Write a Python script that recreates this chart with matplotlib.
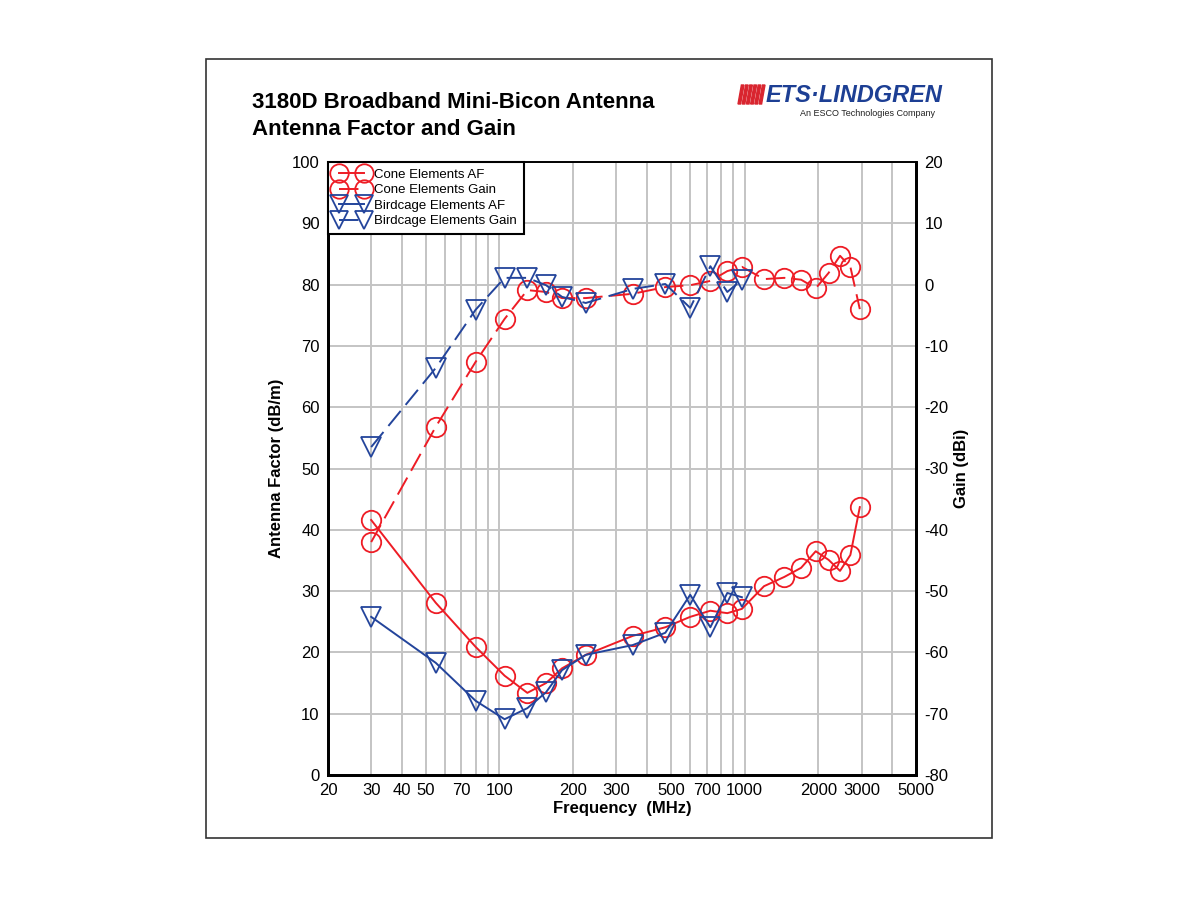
import matplotlib
matplotlib.use("Agg")
import matplotlib.pyplot as plt
from matplotlib.patches import Rectangle, Polygon

plt.rcParams["font.family"] = ["Liberation Sans", "DejaVu Sans"]
plt.rcParams["axes.unicode_minus"] = False

# frequencies (MHz)
freq_bird = [30, 55, 80, 105, 130, 155, 180, 225, 350, 475, 600, 725, 850, 975]
freq_cone = [30, 55, 80, 105, 130, 155, 180, 225, 350, 475, 600, 725, 850, 975,
             1200, 1450, 1700, 1950, 2200, 2450, 2700, 2950]

# antenna factor (dB/m)
cone_af = [41.6, 28.1, 20.9, 16.2, 13.4, 15.0, 17.4, 19.6, 22.7, 24.1, 25.8, 26.8, 26.4, 27.1,
           30.8, 32.3, 33.8, 36.5, 35.1, 33.3, 35.9, 43.7]
bird_af = [25.8, 18.3, 12.1, 9.1, 10.9, 13.5, 17.1, 19.6, 21.2, 23.2, 29.4, 24.1, 29.7, 29.0]

# gain (dBi)
cone_gain = [-42.0, -23.2, -12.6, -5.6, -0.9, -1.2, -2.2, -2.2, -1.5, -0.4, -0.1, 0.6, 2.2, 2.9,
             0.9, 1.1, 0.8, -0.6, 1.9, 4.7, 2.9, -4.0]
bird_gain = [-26.5, -13.6, -4.1, 1.1, 1.1, -0.1, -2.0, -3.0, -0.7, 0.1, -3.8, 3.0, -1.2, 0.8]

grid_x = [20, 30, 40, 50, 60, 70, 80, 90, 100, 200, 300, 400, 500, 600, 700, 800, 900,
          1000, 2000, 3000, 4000, 5000]
label_x = [20, 30, 40, 50, 70, 100, 200, 300, 500, 700, 1000, 2000, 3000, 5000]

red = "#ee1c25"
blue = "#23449b"
dash = (0, (10, 4))

fig = plt.figure(figsize=(12, 9), dpi=100)

# outer frame
fig.patches.append(Rectangle((206 / 1200, 1 - 838 / 900), 786 / 1200, 779 / 900,
                             transform=fig.transFigure, fill=False, edgecolor="#333333", lw=1.2))

fig.text(252 / 1200, 1 - 102 / 900, "3180D Broadband Mini-Bicon Antenna",
         fontsize=16, fontweight="bold", va="center", ha="left")
fig.text(252 / 1200, 1 - 130 / 900, "Antenna Factor and Gain",
         fontsize=16, fontweight="bold", va="center", ha="left")

# logo
for i in range(6):
    x0 = (738 + i * 4.2) / 1200
    fig.patches.append(Polygon([(x0, 1 - 104 / 900), (x0 + 2.6 / 1200, 1 - 104 / 900),
                                (x0 + 6 / 1200, 1 - 85 / 900), (x0 + 3.4 / 1200, 1 - 85 / 900)],
                               closed=True, transform=fig.transFigure, color="#d9252f"))
fig.text(766 / 1200, 1 - 95 / 900, "ETS\u00b7LINDGREN", fontsize=17, fontweight="bold",
         style="italic", color="#1d3f94", va="center", ha="left")
fig.text(935 / 1200, 1 - 113 / 900, "An ESCO Technologies Company", fontsize=6.5,
         color="#222222", va="center", ha="right")

ax = fig.add_axes([328 / 1200, 1 - 775 / 900, 588 / 1200, 613 / 900])
ax2 = ax.twinx()

ax.set_xscale("log")
ax.set_xlim(20, 5000)
ax.set_ylim(0, 100)
ax2.set_ylim(-80, 20)

ax.set_xticks(grid_x)
ax.set_xticklabels([str(v) if v in label_x else "" for v in grid_x])
ax.minorticks_off()
ax.set_yticks(range(0, 101, 10))
ax2.set_yticks(range(-80, 21, 10))
ax.tick_params(length=0, labelsize=12, pad=6)
ax2.tick_params(length=0, labelsize=12, pad=6)
ax.grid(True, color="#c4c4c4", lw=1.4)
ax.set_axisbelow(True)

for a in (ax, ax2):
    for side in ("left", "right", "bottom"):
        a.spines[side].set_linewidth(2)
    a.spines["top"].set_linewidth(1.2)

mk = dict(markersize=14, markerfacecolor="none", markeredgewidth=1.3)
ax.plot(freq_cone, cone_af, color=red, lw=1.4, marker="o", markeredgecolor=red,
        label="Cone Elements AF", **mk)
ax2.plot(freq_cone, cone_gain, color=red, lw=1.4, ls=dash, marker="o", markeredgecolor=red,
         label="Cone Elements Gain", **mk)
ax.plot(freq_bird, bird_af, color=blue, lw=1.4, marker="v", markeredgecolor=blue,
        label="Birdcage Elements AF", **mk)
ax2.plot(freq_bird, bird_gain, color=blue, lw=1.4, ls=dash, marker="v", markeredgecolor=blue,
         label="Birdcage Elements Gain", **mk)

h1, l1 = ax.get_legend_handles_labels()
h2, l2 = ax2.get_legend_handles_labels()
handles = [h1[0], h2[0], h1[1], h2[1]]
labels = [l1[0], l2[0], l1[1], l2[1]]
leg = ax2.legend(handles, labels, loc="upper left", bbox_to_anchor=(0, 1), borderaxespad=0,
                 fancybox=False, edgecolor="black", framealpha=1, fontsize=9.5,
                 numpoints=2, markerscale=0.95, labelspacing=0.25, handlelength=2.5,
                 handletextpad=0.5, borderpad=0.5)
leg.get_frame().set_linewidth(1.5)

ax.set_xlabel("Frequency  (MHz)", fontsize=12, fontweight="bold", labelpad=2)
ax.set_ylabel("Antenna Factor (dB/m)", fontsize=12, fontweight="bold", labelpad=6)
ax2.set_ylabel("Gain (dBi)", fontsize=12, fontweight="bold", labelpad=4)

fig.savefig("out.png", dpi=100)
